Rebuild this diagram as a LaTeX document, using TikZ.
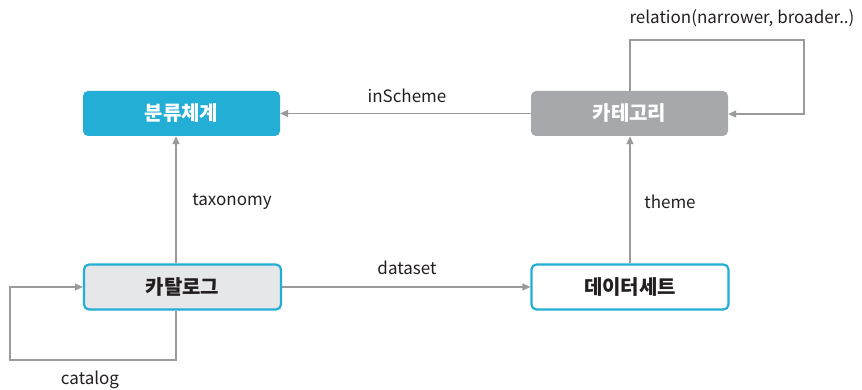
\documentclass[tikz,border=0pt]{standalone}
\usepackage{fontspec}
\setmainfont{Noto Sans CJK KR}
\usetikzlibrary{arrows.meta,positioning}
\definecolor{cblue}{HTML}{23AED5}
\definecolor{cgray}{HTML}{A7A8AB}
\definecolor{clight}{HTML}{E6E7E8}
\definecolor{cline}{HTML}{9A9A9C}
\definecolor{ctext}{HTML}{231F20}
\begin{document}
\begin{tikzpicture}[x=1pt,y=-1pt,
  box/.style={rounded corners=5pt, minimum width=197pt, minimum height=45pt, inner sep=0pt, font=\fontsize{20}{24}\selectfont\bfseries},
  conn/.style={draw=cline, line width=1.1pt, -{Triangle[length=8pt,width=7pt]}},
  lbl/.style={font=\fontsize{17}{20}\selectfont, text=ctext}]
\useasboundingbox (0,0) rectangle (862,390);
\node[box, fill=cblue, text=white] (tax) at (181.5,113.5) {분류체계};
\node[box, fill=cgray, text=white] (cat) at (629.5,113.5) {카테고리};
\node[box, fill=clight, draw=cblue, line width=2.2pt, text=ctext] (catl) at (182.5,287) {카탈로그};
\node[box, fill=white, draw=cblue, line width=2.2pt, text=ctext] (ds) at (630,287) {데이터세트};
\coordinate (l1) at (176,360);
\coordinate (l2) at (10,360);
\coordinate (l3) at (10,287);
\coordinate (r1) at (630,40);
\coordinate (r2) at (804,40);
\coordinate (r3) at (804,114);
\draw[conn] (cat.west) -- (tax.east);
\draw[conn] (catl.east) -- (ds.west);
\draw[conn] (catl.north -| 176,0) -- (tax.south -| 176,0);
\draw[conn] (ds.north -| 630,0) -- (cat.south -| 630,0);
\draw[conn] (catl.south -| l1) -- (l1) -- (l2) -- (l3) -- (catl.west |- l3);
\draw[conn] (cat.north -| r1) -- (r1) -- (r2) -- (r3) -- (cat.east |- r3);
\node[lbl] (t1) at (407,96) {inScheme};
\node[lbl] (t2) at (407,268) {dataset};
\node[lbl] (t3) at (232,202) {taxonomy};
\node[lbl] (t4) at (670,202) {theme};
\node[lbl] (t5) at (90,380) {catalog};
\node[lbl] (t6) at (742,18) {relation(narrower, broader..)};
\end{tikzpicture}
\end{document}
